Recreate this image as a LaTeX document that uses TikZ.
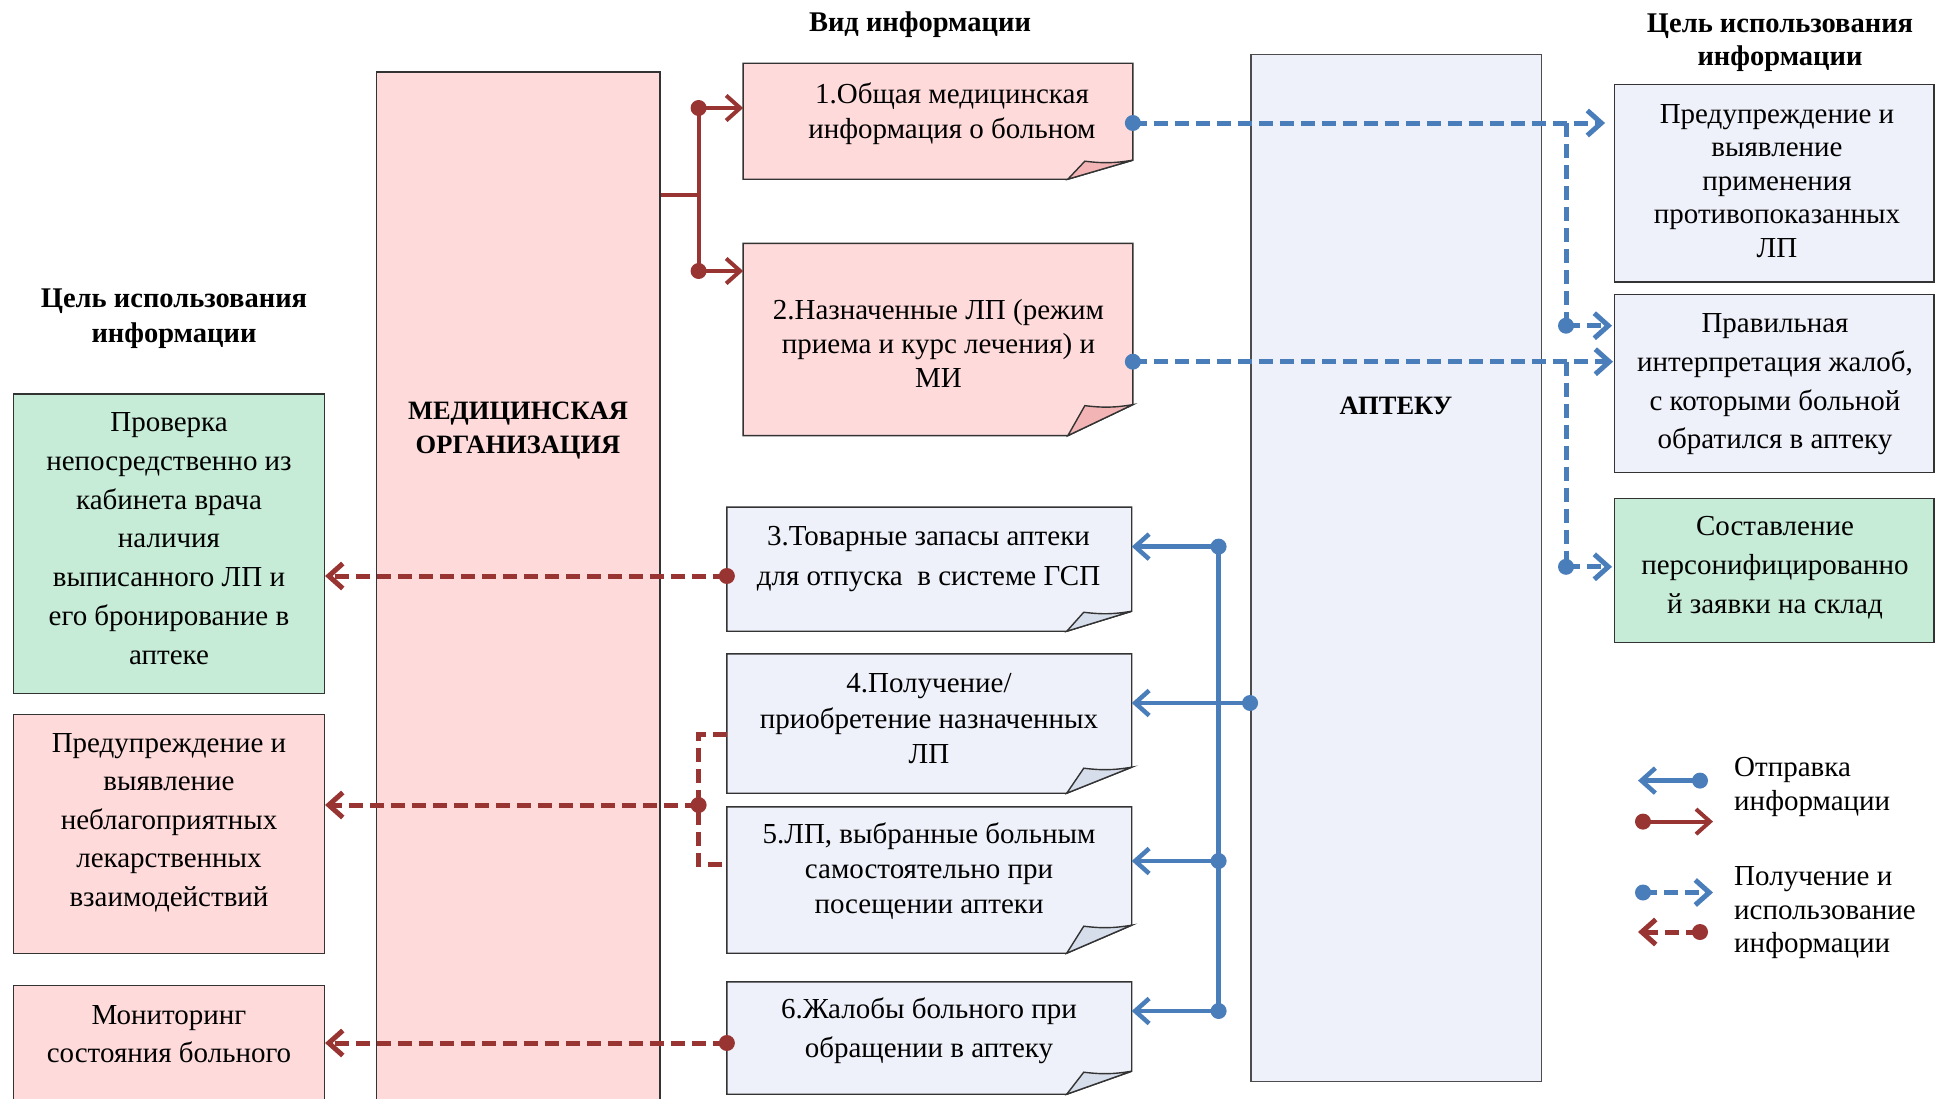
\documentclass[tikz,border=0pt]{standalone}
\usepackage{fontspec}
\setmainfont{Liberation Serif}
\usetikzlibrary{arrows.meta,calc}

\definecolor{pinkfill}{RGB}{254,218,218}
\definecolor{pinkfold}{RGB}{242,180,180}
\definecolor{bluefill}{RGB}{238,241,249}
\definecolor{bluefold}{RGB}{214,221,235}
\definecolor{greenfill}{RGB}{198,235,214}
\definecolor{redline}{RGB}{152,52,50}
\definecolor{blueline}{RGB}{74,126,187}

\tikzset{
  boxline/.style={draw=black!80, line width=1.4pt},
  plainbox/.style={rectangle, boxline, inner sep=0pt},
  tx/.style={align=center, inner sep=0pt, font=\fontsize{29}{#1}\selectfont},
  tx/.default=35,
  btx/.style={align=center, inner sep=0pt, font=\bfseries\fontsize{28.5}{#1}\selectfont},
  btx/.default=34,
  barb/.style={-{Straight Barb[length=14pt,width=25pt]}},
  redsolid/.style={draw=redline, line width=4pt},
  bluesolid/.style={draw=blueline, line width=4.5pt},
  reddash/.style={draw=redline, line width=5pt, dash pattern=on 14pt off 7pt},
  bluedash/.style={draw=blueline, line width=5pt, dash pattern=on 14pt off 7pt},
}

% name, cx, cy, w, h, foldh, fill, foldfill
\newcommand\foldbox[8]{%
  \node[rectangle, inner sep=0pt, minimum width=#4pt, minimum height=#5pt] (#1) at (#2,#3) {};
  \filldraw[fill=#7, boxline] (#1.north west) -- (#1.north east) -- ([yshift=#6pt]#1.south east)
     -- ([xshift=-65pt]#1.south east) -- (#1.south west) -- cycle;
  \filldraw[fill=#8, boxline] ([xshift=-65pt]#1.south east) -- ([xshift=-48pt,yshift=#6pt-1pt]#1.south east)
     to[bend right=8] ([yshift=#6pt]#1.south east) -- cycle;
}
\newcommand\mkRdot[1]{\fill[redline] (#1) circle (8pt);}
\newcommand\mkBdot[1]{\fill[blueline] (#1) circle (8pt);}

\begin{document}
\begin{tikzpicture}[x=1pt,y=-1pt]
\useasboundingbox (0,0) rectangle (1949,1098);
\clip (0,0) rectangle (1949,1098);

% titles
\node[btx] (tvid) at (920,24.5) {Вид информации};
\node[btx=35] (tleft) at (174,319) {Цель использования\\информации};
\node[btx=33.6] (tright) at (1780,42.7) {Цель использования\\информации};

% big columns
\node[plainbox, fill=pinkfill, minimum width=283.4pt, minimum height=1040pt] (mo) at (518.3,592) {};
\node[align=center, inner sep=0pt, font=\bfseries\fontsize{26.5}{34}\selectfont] (motx) at (518,431) {МЕДИЦИНСКАЯ\\ОРГАНИЗАЦИЯ};
\node[rectangle, inner sep=0pt, draw=black!70, line width=1.6pt, fill=bluefill, minimum width=290.7pt, minimum height=1026.9pt] (apt) at (1396.2,568) {};
\node[inner sep=0pt, font=\bfseries\fontsize{26.5}{34}\selectfont] (apttx) at (1396,406) {АПТЕКУ};

% folded information boxes
\foldbox{b1}{938}{121.2}{389.3}{115.6}{19}{pinkfill}{pinkfold}
\foldbox{b2}{938}{339.5}{389.3}{191.9}{31}{pinkfill}{pinkfold}
\foldbox{b3}{929.3}{569.2}{404.5}{123.7}{20}{bluefill}{bluefold}
\foldbox{b4}{929.3}{723.5}{404.5}{139}{26}{bluefill}{bluefold}
\foldbox{b5}{929.3}{880}{404.5}{146}{28}{bluefill}{bluefold}
\foldbox{b6}{929.3}{1038}{404.5}{112}{23}{bluefill}{bluefold}

\node[tx] (t1) at (952,113.6) {1.Общая медицинская\\информация о больном};
\node[tx=34] (t2) at (938.5,343.7) {2.Назначенные ЛП (режим\\приема и курс лечения) и\\МИ};
\node[tx=40] (t3) at (928.5,558.6) {3.Товарные запасы аптеки\\для отпуска\ \ в системе ГСП};
\node[tx=35.5] (t4) at (929,719) {4.Получение/\\приобретение назначенных\\ЛП};
\node[tx=35] (t5) at (929,871.5) {5.ЛП, выбранные больным\\самостоятельно при\\посещении аптеки};
\node[tx=39] (t6) at (929,1031) {6.Жалобы больного при\\обращении в аптеку};

% right boxes
\node[plainbox, fill=bluefill, minimum width=319.3pt, minimum height=197.5pt] (r1) at (1774.4,183.2) {};
\node[tx=33.5] (r1t) at (1777,181) {Предупреждение и\\выявление\\применения\\противопоказанных\\ЛП};
\node[plainbox, fill=bluefill, minimum width=319.3pt, minimum height=177.7pt] (r2) at (1774.4,383.5) {};
\node[tx=38.6] (r2t) at (1775,384.4) {Правильная\\интерпретация жалоб,\\с которыми больной\\обратился в аптеку};
\node[plainbox, fill=greenfill, minimum width=319.3pt, minimum height=144.2pt] (r3) at (1774.4,570.5) {};
\node[tx=39] (r3t) at (1775,567.6) {Составление\\персонифицированно\\й заявки на склад};

% left boxes
\node[plainbox, fill=greenfill, minimum width=310.7pt, minimum height=299.6pt] (l1) at (169,543.8) {};
\node[tx=38.8] (l1t) at (169,538.5) {Проверка\\непосредственно из\\кабинета врача\\наличия\\выписанного ЛП и\\его бронирование в\\аптеке};
\node[plainbox, fill=pinkfill, minimum width=310.7pt, minimum height=238.7pt] (l2) at (169,834) {};
\node[tx=38.5] (l2t) at (169,822.5) {Предупреждение и\\выявление\\неблагоприятных\\лекарственных\\взаимодействий};
\node[plainbox, fill=pinkfill, minimum width=310.7pt, minimum height=130pt] (l3) at (169,1050.7) {};
\node[tx=38.6] (l3t) at (169,1034) {Мониторинг\\состояния больного};

% ---- red solid bus (med org -> boxes 1,2)
\coordinate (rj) at (698.6,195);
\coordinate (ra) at (698.6,108);
\coordinate (rb) at (698.6,271);
\draw[redsolid] (mo.east |- rj) -- (rj);
\draw[redsolid] (ra) -- (rb);
\draw[redsolid, barb] (ra) -- (b1.west |- ra);
\draw[redsolid, barb] (rb) -- (b2.west |- rb);
\mkRdot{ra}\mkRdot{rb}

% ---- blue dashed (boxes 1,2 -> right column)
\coordinate (bx) at (1566,0);
\coordinate (y1) at (0,123);
\coordinate (y2) at (0,361.7);
\coordinate (bd1) at (1566,325.7);
\coordinate (bd2) at (1566,566.8);
\draw[bluedash] (bx |- y1) -- (bd1);
\draw[bluedash] (bx |- y2) -- (bd2);
\draw[bluedash, barb, shorten >=9pt] (b1.east |- y1) -- (r1.west |- y1);
\draw[bluedash, barb, shorten >=2pt] (bd1) -- (r2.west |- bd1);
\draw[bluedash, barb, shorten >=1pt] (b2.east |- y2) -- (r2.west |- y2);
\draw[bluedash, barb, shorten >=2pt] (bd2) -- (r3.west |- bd2);
\mkBdot{b1.east |- y1}\mkBdot{b2.east |- y2}\mkBdot{bd1}\mkBdot{bd2}

% ---- blue solid (pharmacy -> boxes 3..6)
\coordinate (bs3) at (1218.6,546.6);
\coordinate (bs5) at (1218.6,861);
\coordinate (bs6) at (1218.6,1011);
\coordinate (y4) at (0,703);
\draw[bluesolid] (bs3) -- (bs6);
\draw[bluesolid, barb] (bs3) -- (b3.east |- bs3);
\draw[bluesolid, barb] (apt.west |- y4) -- (b4.east |- y4);
\draw[bluesolid, barb] (bs5) -- (b5.east |- bs5);
\draw[bluesolid, barb] (bs6) -- (b6.east |- bs6);
\mkBdot{bs3}\mkBdot{bs5}\mkBdot{bs6}\mkBdot{apt.west |- y4}

% ---- red dashed (boxes 3..6 -> left column)
\coordinate (y3) at (0,576);
\coordinate (y4b) at (0,734);
\coordinate (y5b) at (0,864);
\coordinate (rk) at (698.6,805);
\coordinate (y6) at (0,1043);
\draw[reddash, barb] (b3.west |- y3) -- (l1.east |- y3);
\draw[reddash] (b4.west |- y4b) -- (rk |- y4b) -- (rk |- y5b) -- (b5.west |- y5b);
\draw[reddash, barb] (rk) -- (l2.east |- rk);
\draw[reddash, barb] (b6.west |- y6) -- (l3.east |- y6);
\mkRdot{b3.west |- y3}\mkRdot{rk}\mkRdot{b6.west |- y6}

% ---- legend
\coordinate (lg1a) at (1700,780.6); \coordinate (lg1b) at (1638,780.6);
\coordinate (lg2a) at (1643,821.6); \coordinate (lg2b) at (1713,821.6);
\coordinate (lg3a) at (1643,892.5); \coordinate (lg3b) at (1713,892.5);
\coordinate (lg4a) at (1700,932);   \coordinate (lg4b) at (1638,932);
\draw[bluesolid, barb] (lg1a) -- (lg1b);
\draw[redsolid, barb] (lg2a) -- (lg2b);
\draw[bluedash, barb] (lg3a) -- (lg3b);
\draw[reddash, barb] (lg4a) -- (lg4b);
\mkBdot{lg1a}\mkRdot{lg2a}\mkBdot{lg3a}\mkRdot{lg4a}
\node[tx=33.5, align=left, anchor=west] (lgt1) at (1734,787) {Отправка\\информации};
\node[tx=33.5, align=left, anchor=west] (lgt2) at (1734,913) {Получение и\\использование\\информации};
\end{tikzpicture}
\end{document}
